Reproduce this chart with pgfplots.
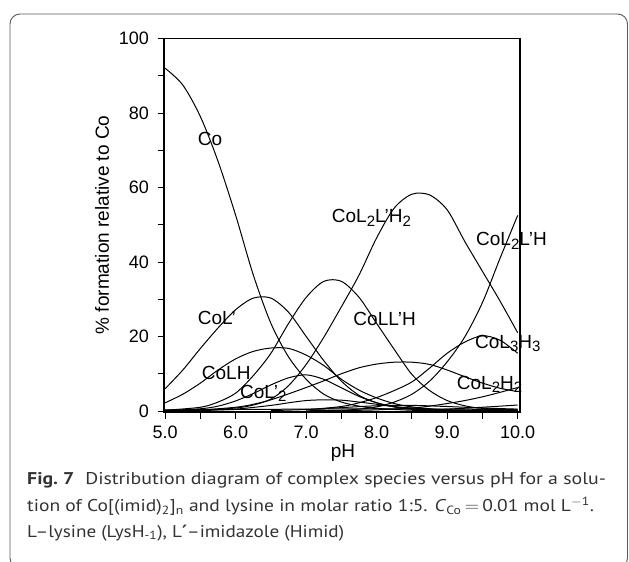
\documentclass[border=0pt]{standalone}
\usepackage{graphicx}
\usepackage{pgfplots}
\pgfplotsset{compat=1.18}
\usepackage{fontspec}
\setmainfont{Liberation Sans}
\newfontfamily\capfont{PT Sans}
\newfontfamily\symfont{DejaVu Sans}
\newcommand{\sub}[1]{\raisebox{-3.5bp}{\fontsize{15bp}{15bp}\selectfont #1}}
\newcommand{\lblfont}{\fontsize{19bp}{19bp}\selectfont}
\begin{document}
\begin{tikzpicture}[x=1bp,y=1bp]
\useasboundingbox (0bp,0bp) rectangle (629bp,562bp);
\draw[black!65, line width=0.9bp, rounded corners=10bp] (10bp,-6bp) rectangle (627.5bp,548bp);
\begin{axis}[
 at={(164bp,149.9bp)}, anchor=south west,
 scale only axis, width=356bp, height=373.6bp,
 xmin=4.983, xmax=10.033, ymin=-0.3, ymax=100,
 xtick={5,6,7,8,9,10}, xticklabels={5.0,6.0,7.0,8.0,9.0,10.0},
 minor xtick={5.5,6.5,7.5,8.5,9.5},
 ytick={0,20,40,60,80,100}, yticklabels={0,20,40,60,80,100},
 minor ytick={10,30,50,70,90},
 tick align=outside, tick pos=left,
 major tick length=6.5bp, minor tick length=6.5bp,
 every tick/.style={black, line width=0.9bp},
 axis line style={line width=1.2bp},
 ticklabel style={font=\fontsize{18bp}{18bp}\selectfont},
 xticklabel style={yshift=-4bp},
 yticklabel style={xshift=-5bp},
 xlabel={pH}, ylabel={\% formation relative to Co},
 label style={font=\lblfont},
 xlabel style={at={(axis description cs:0.503,-0.110)}, anchor=center},
 ylabel style={at={(axis description cs:-0.174,0.501)}, anchor=center},
 clip=false,
 cycle list={black},
 every axis plot post/.append style={black, line width=1bp, smooth, mark=none},
]
% Co
\addplot coordinates {(5.0,92) (5.25,87.5) (5.5,79) (5.75,67) (6.0,52.5) (6.25,36.5) (6.5,23.5) (6.75,14.5) (7.0,8.5) (7.25,4.5) (7.5,2.4) (7.75,1.3) (8.0,0.7) (8.5,0.2) (9.0,0.05) (10.0,0)};
% CoL'
\addplot coordinates {(5.0,6) (5.25,11) (5.5,16.8) (5.75,22.3) (6.0,27.2) (6.25,30.3) (6.5,30.3) (6.75,26.5) (7.0,20) (7.25,13.5) (7.5,8) (7.75,4.2) (8.0,2.2) (8.25,1.1) (8.5,0.5) (9.0,0.1) (10.0,0)};
% CoLH
\addplot coordinates {(5.0,2.2) (5.25,4.5) (5.5,7.5) (5.75,11) (6.0,14) (6.25,16) (6.5,16.9) (6.75,16.8) (7.0,15) (7.25,12.2) (7.5,8.5) (7.75,5.6) (8.0,3.5) (8.25,2) (8.5,1.1) (9.0,0.3) (10.0,0)};
% CoL'2
\addplot coordinates {(5.0,0.1) (5.5,0.6) (5.75,1.3) (6.0,2.7) (6.25,4.7) (6.5,7.0) (6.75,8.9) (7.0,9.7) (7.25,8.5) (7.5,6.2) (7.75,3.9) (8.0,2.2) (8.25,1.1) (8.5,0.5) (9.0,0.1) (10.0,0)};
% CoLL'H
\addplot coordinates {(5.0,0.2) (5.5,1.0) (5.75,2.4) (6.0,4.8) (6.25,9.5) (6.5,15.5) (6.75,23.5) (7.0,30.5) (7.25,34.8) (7.5,34.8) (7.75,30.5) (8.0,23.5) (8.25,16.5) (8.5,9.8) (8.75,5.5) (9.0,2.8) (9.25,1.4) (9.5,0.7) (10.0,0.2)};
% CoL2L'H2
\addplot coordinates {(5.0,0) (5.5,0.2) (6.0,0.8) (6.25,1.6) (6.5,3.2) (6.75,6.8) (7.0,12.5) (7.25,19.8) (7.5,28) (7.75,36.5) (8.0,46.5) (8.25,54.5) (8.5,58.2) (8.75,58) (9.0,54) (9.25,45.5) (9.5,37.5) (9.75,29.5) (10.0,21)};
% CoL2L'H
\addplot coordinates {(7.0,0.05) (7.5,0.2) (7.75,0.5) (8.0,1.1) (8.25,2.4) (8.5,4.5) (8.75,8) (9.0,13.2) (9.25,19.9) (9.5,29.1) (9.75,41) (10.0,52.5)};
% CoL3H3
\addplot coordinates {(7.0,0.3) (7.5,1.2) (7.75,2.2) (8.0,3.6) (8.25,5.5) (8.5,7.8) (8.75,11.5) (9.0,15.5) (9.25,18.5) (9.5,20.2) (9.75,19) (10.0,15.5)};
% broad unlabelled species
\addplot coordinates {(5.0,0.1) (5.5,0.3) (6.0,1.0) (6.25,1.8) (6.5,3.0) (6.75,4.6) (7.0,6.3) (7.25,8.1) (7.5,10) (7.75,11.6) (8.0,12.6) (8.25,13.1) (8.5,13.1) (8.75,12.5) (9.0,11) (9.25,9.2) (9.5,7.5) (9.75,6.1) (10.0,5.2)};
% CoL2H2
\addplot coordinates {(7.5,0.1) (8.0,0.3) (8.5,0.8) (8.75,1.3) (9.0,2) (9.25,2.8) (9.5,3.8) (9.75,5) (10.0,6.3)};
% minor species
\addplot coordinates {(5.5,0.1) (6.0,0.5) (6.5,1.5) (6.75,2.2) (7.0,2.8) (7.25,3.0) (7.5,2.9) (7.75,2.4) (8.0,1.8) (8.25,1.2) (8.5,0.8) (9.0,0.3) (10.0,0.05)};
\addplot coordinates {(6.5,0.1) (7.0,0.4) (7.5,0.9) (8.0,1.4) (8.5,1.5) (9.0,1.2) (9.5,0.8) (10.0,0.5)};
\addplot coordinates {(5.0,0.3) (6.0,0.4) (7.0,0.5) (8.0,0.6) (9.0,0.5) (10.0,0.4)};
\addplot coordinates {(8.5,0.2) (9.0,0.5) (9.5,1.0) (10.0,1.6)};
% labels
\node[anchor=base west, inner sep=0, font=\lblfont] at (axis cs:5.461,71.2) {Co};
\node[anchor=base west, inner sep=0, font=\lblfont] at (axis cs:5.461,23.3) {CoL'};
\node[anchor=base west, inner sep=0, font=\lblfont] at (axis cs:5.518,8.5) {CoLH};
\node[anchor=base west, inner sep=0, font=\lblfont] at (axis cs:6.061,3.4) {CoL'\sub{2}};
\node[anchor=base west, inner sep=0, font=\lblfont] at (axis cs:7.362,50.6) {CoL\sub{2}L'H\sub{2}};
\node[anchor=base west, inner sep=0, font=\lblfont] at (axis cs:7.668,23.0) {CoLL'H};
\node[anchor=base west, inner sep=0, font=\lblfont] at (axis cs:9.409,44.4) {CoL\sub{2}L'H};
\node[anchor=base west, inner sep=0, font=\lblfont] at (axis cs:9.394,16.8) {CoL\sub{3}H\sub{3}};
\node[anchor=base west, inner sep=0, font=\lblfont] at (axis cs:9.135,5.8) {CoL\sub{2}H\sub{2}};
\end{axis}
% caption
\node[anchor=base west, inner sep=0, text=black!80] at (27bp,77bp) {\resizebox{578.7bp}{\height}{\capfont\fontsize{17bp}{21bp}\selectfont\textbf{Fig.~7}\hspace{0.55em}Distribution diagram of complex species versus pH for a solu-}};
\node[anchor=base west, inner sep=0, text=black!80] at (27bp,50bp) {\resizebox{566.7bp}{\height}{\capfont\fontsize{17bp}{21bp}\selectfont tion of Co[(imid)\textsubscript{2}]\textsubscript{n} and lysine in molar ratio 1:5. \textit{C}\textsubscript{Co}\,$=$\,0.01 mol L\textsuperscript{$-$1}.}};
\node[anchor=base west, inner sep=0, text=black!80] at (27bp,25bp) {\resizebox{317bp}{\height}{\capfont\fontsize{17bp}{21bp}\selectfont L–lysine (LysH\textsubscript{-1}), L{\symfont\bfseries ′}–imidazole (Himid)}};
\end{tikzpicture}
\end{document}
